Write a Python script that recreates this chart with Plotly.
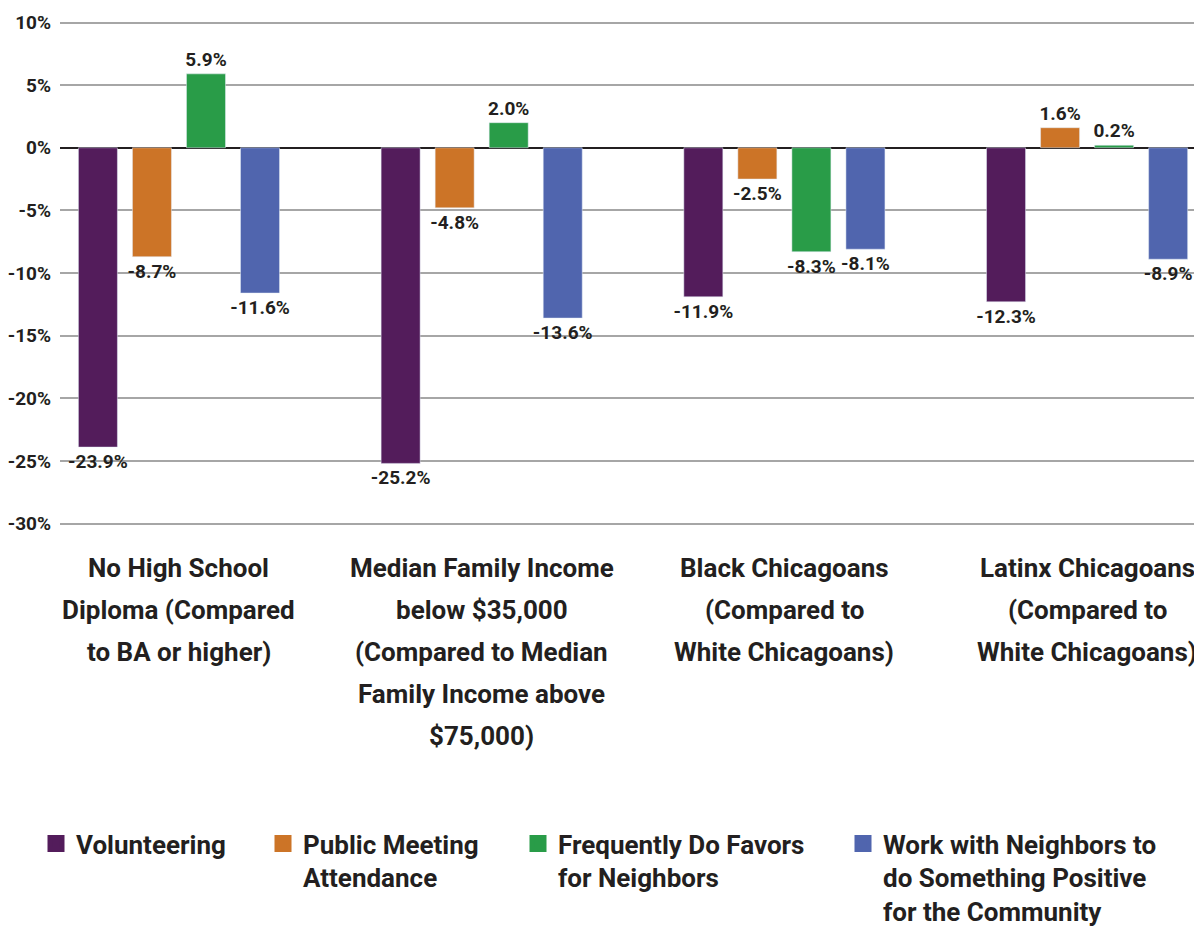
import plotly.graph_objects as go

# 데이터
categories = [
    "No High School<br>Diploma (Compared<br>to BA or higher)",
    "Median Family Income<br>below $35,000<br>(Compared to Median<br>Family Income above<br>$75,000)",
    "Black Chicagoans<br>(Compared to<br>White Chicagoans)",
    "Latinx Chicagoans<br>(Compared to<br>White Chicagoans)",
]
series_names = [
    "Volunteering",
    "Public Meeting<br>Attendance",
    "Frequently Do Favors<br>for Neighbors",
    "Work with Neighbors to<br>do Something Positive<br>for the Community",
]
volunteering = [-23.9, -25.2, -11.9, -12.3]
public_meeting = [-8.7, -4.8, -2.5, 1.6]
favors = [5.9, 2.0, -8.3, 0.2]
work_neighbors = [-11.6, -13.6, -8.1, -8.9]
y_ticks = [-30, -25, -20, -15, -10, -5, 0, 5, 10]

COLORS = ["#531c5b", "#cc7427", "#299c48", "#5065ae"]
TEXT = "#231f20"
FONT = "Roboto, Lato, sans-serif"

# 페이지 body 여백(8px) 보정
OFF = 8
legend_x = [48, 275, 530, 855]

fig = go.Figure()
all_series = [volunteering, public_meeting, favors, work_neighbors]
for i, (name, vals) in enumerate(zip(series_names, all_series)):
    fig.add_trace(go.Bar(
        x=categories,
        y=vals,
        name=name,
        marker=dict(color=COLORS[i]),
        text=[f"{v:.1f}%" for v in vals],
        textposition="outside",
        constraintext="none",
        textfont=dict(family=FONT, size=19, color=TEXT, weight="bold"),
        cliponaxis=False,
        showlegend=False,
    ))

# 범례 전용 trace (숨김 축 위, 큰 사각형 심볼)
for i, name in enumerate(series_names):
    fig.add_trace(go.Bar(
        x=[None], y=[None],
        name=name,
        xaxis="x2", yaxis="y2",
        marker=dict(color=COLORS[i], line=dict(color=COLORS[i], width=5)),
        showlegend=True,
        legend="legend" if i == 0 else f"legend{i + 1}",
    ))

legends = {}
for i, lx in enumerate(legend_x):
    key = "legend" if i == 0 else f"legend{i + 1}"
    legends[key] = dict(
        xref="container", yref="container",
        x=(lx - 20) / 1202, y=1 - (820 - OFF) / 934,
        xanchor="left", yanchor="top",
        orientation="h",
        valign="top",
        bgcolor="rgba(0,0,0,0)",
        font=dict(family=FONT, size=26, color=TEXT, weight="bold"),
    )

# 카테고리 라벨 (줄 간격을 넓히기 위해 줄마다 annotation)
annotations = []
for cat in categories:
    for k, line in enumerate(cat.split("<br>")):
        annotations.append(dict(
            x=cat, y=0, xref="x", yref="paper",
            text=line, showarrow=False,
            xanchor="center", yanchor="top",
            yshift=-25 - 42 * k,
            font=dict(family=FONT, size=26, color=TEXT, weight="bold"),
        ))

fig.update_layout(
    width=1202, height=934,
    paper_bgcolor="#ffffff", plot_bgcolor="#ffffff",
    margin=dict(l=60 - OFF, r=2 + OFF, t=20 - OFF, b=408 + OFF),
    barmode="group",
    bargap=0.286,
    bargroupgap=0.278,
    showlegend=True,
    xaxis=dict(
        range=[-0.393, 3.373],
        showgrid=False,
        automargin=False,
        showticklabels=False,
        ticks="",
    ),
    yaxis=dict(
        range=[-30.2, 10.2],
        tickvals=y_ticks,
        ticktext=[f"{t}%" for t in y_ticks],
        tickfont=dict(family=FONT, size=19, color=TEXT, weight="bold"),
        automargin=False,
        showgrid=True, gridcolor="#a6a6a6", gridwidth=1.5,
        zeroline=True, zerolinecolor="#231f20", zerolinewidth=1.5,
        ticks="", ticklabelstandoff=8,
    ),
    xaxis2=dict(overlaying="x", visible=False),
    yaxis2=dict(overlaying="y", visible=False),
    annotations=annotations,
    **legends,
)

fig.write_html("out.html")
